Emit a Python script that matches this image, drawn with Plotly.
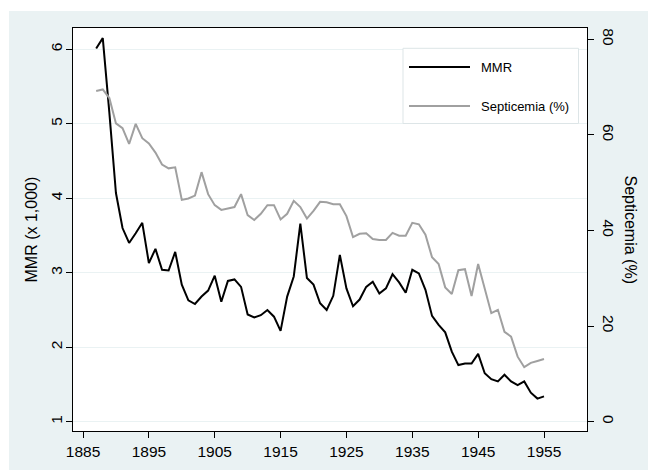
import plotly.graph_objects as go

years = list(range(1887, 1956))

mmr = [6.01, 6.15, 5.15, 4.07, 3.60, 3.40, 3.53, 3.67, 3.13, 3.32,
       3.04, 3.03, 3.28, 2.84, 2.63, 2.58, 2.68, 2.76, 2.96, 2.61,
       2.89, 2.91, 2.81, 2.44, 2.40, 2.43, 2.50, 2.41, 2.22, 2.68,
       2.95, 3.66, 2.93, 2.84, 2.59, 2.50, 2.69, 3.24, 2.79, 2.55,
       2.64, 2.81, 2.88, 2.72, 2.79, 2.98, 2.87, 2.73, 3.04, 2.99,
       2.77, 2.42, 2.30, 2.20, 1.94, 1.76, 1.78, 1.78, 1.91, 1.65,
       1.57, 1.54, 1.63, 1.54, 1.49, 1.54, 1.39, 1.31, 1.34]

septicemia = [69.2, 69.5, 67.7, 62.4, 61.4, 58.1, 62.3, 59.3, 58.2, 56.3,
              53.8, 53.0, 53.2, 46.4, 46.7, 47.3, 52.2, 47.6, 45.3, 44.3,
              44.6, 44.9, 47.6, 43.2, 42.2, 43.5, 45.3, 45.3, 42.3, 43.5,
              46.2, 44.9, 42.5, 44.1, 46.0, 45.9, 45.5, 45.5, 43.0, 38.6,
              39.3, 39.4, 38.2, 38.0, 38.0, 39.5, 38.9, 38.9, 41.6, 41.3,
              39.1, 34.4, 33.0, 28.1, 26.7, 31.7, 31.9, 26.3, 33.0, 27.7,
              22.7, 23.4, 18.8, 17.8, 13.6, 11.4, 12.3, 12.7, 13.1]

x_ticks = [1885, 1895, 1905, 1915, 1925, 1935, 1945, 1955]
left_ticks = [1, 2, 3, 4, 5, 6]
right_ticks = [0, 20, 40, 60, 80]

FONT = "Liberation Sans, Arial, sans-serif"
BG = "#EAF2F3"

fig = go.Figure()
fig.add_trace(go.Scatter(x=years, y=mmr, mode="lines", name="MMR",
                         line=dict(color="#000000", width=2), yaxis="y"))
fig.add_trace(go.Scatter(x=years, y=septicemia, mode="lines", name="Septicemia (%)",
                         line=dict(color="#A0A0A0", width=2), yaxis="y2"))

W, H = 648, 472
ml, mr, mt, mb = 73, 61, 28, 41
pw, ph = W - ml - mr, H - mt - mb

def px(xpix):
    return (xpix - ml) / pw

def py(ypix):
    return (H - mb - ypix) / ph

fig.update_layout(
    width=W, height=H,
    margin=dict(l=ml, r=mr, t=mt, b=mb, pad=0),
    paper_bgcolor=BG, plot_bgcolor="white",
    showlegend=False,
    font=dict(family=FONT, color="#000000", size=15),
    xaxis=dict(range=[1883.48, 1961.53], tickvals=x_ticks, ticks="outside",
               ticklen=6, tickcolor="black", showgrid=False, zeroline=False,
               showline=True, linecolor="black", linewidth=1, mirror=True,
               tickfont=dict(size=15.5, family=FONT)),
    yaxis=dict(range=[0.875, 6.286], tickvals=left_ticks, ticks="outside",
               ticklen=6, tickcolor="black", showgrid=True, gridcolor=BG,
               gridwidth=1, zeroline=False, showline=True, linecolor="black",
               linewidth=1, mirror=True, tickangle=-90, ticklabelstandoff=-2,
               tickfont=dict(size=15.5, family=FONT)),
    yaxis2=dict(range=[-1.95, 82.36], tickvals=right_ticks, overlaying="y",
                side="right", ticks="outside", ticklen=6, tickcolor="black",
                showgrid=False, zeroline=False, showline=True,
                linecolor="black", linewidth=1, tickangle=90, ticklabelstandoff=3,
                tickfont=dict(size=15.5, family=FONT)),
)

shapes = [
    # white outer strips
    dict(type="rect", xref="paper", yref="paper", x0=px(0), x1=px(9), y0=py(472), y1=py(0),
         fillcolor="white", line=dict(width=0), layer="below"),
    dict(type="rect", xref="paper", yref="paper", x0=px(0), x1=px(648), y0=py(11), y1=py(0),
         fillcolor="white", line=dict(width=0), layer="below"),
    dict(type="rect", xref="paper", yref="paper", x0=px(0), x1=px(648), y0=py(472), y1=py(470),
         fillcolor="white", line=dict(width=0), layer="below"),
    # legend box
    dict(type="rect", xref="paper", yref="paper", x0=px(403), x1=px(578.5), y0=py(123.5), y1=py(48.3),
         fillcolor="white", line=dict(color="#DDE5E7", width=1), layer="above"),
    dict(type="line", xref="paper", yref="paper", x0=px(409), x1=px(470), y0=py(67), y1=py(67),
         line=dict(color="#000000", width=2), layer="above"),
    dict(type="line", xref="paper", yref="paper", x0=px(409), x1=px(470), y0=py(106), y1=py(106),
         line=dict(color="#A0A0A0", width=2), layer="above"),
]

annotations = [
    dict(text="MMR", xref="paper", yref="paper", x=px(479), y=py(67), xanchor="left",
         yanchor="middle", showarrow=False, font=dict(size=13, family=FONT)),
    dict(text="Septicemia (%)", xref="paper", yref="paper", x=px(479), y=py(106), xanchor="left",
         yanchor="middle", showarrow=False, font=dict(size=13, family=FONT)),
    dict(text="MMR (x 1,000)", xref="paper", yref="paper", x=px(31), y=0.5, xanchor="center",
         yanchor="middle", textangle=-90, showarrow=False, font=dict(size=16, family=FONT)),
    dict(text="Septicemia (%)", xref="paper", yref="paper", x=px(630), y=0.5, xanchor="center",
         yanchor="middle", textangle=90, showarrow=False, font=dict(size=16, family=FONT)),
]

fig.update_layout(shapes=shapes, annotations=annotations)
fig.write_html(
    "out.html",
    config={"displayModeBar": False},
    post_script="document.body.style.margin='0';document.body.style.padding='0';"
                "document.body.style.overflow='hidden';",
)
